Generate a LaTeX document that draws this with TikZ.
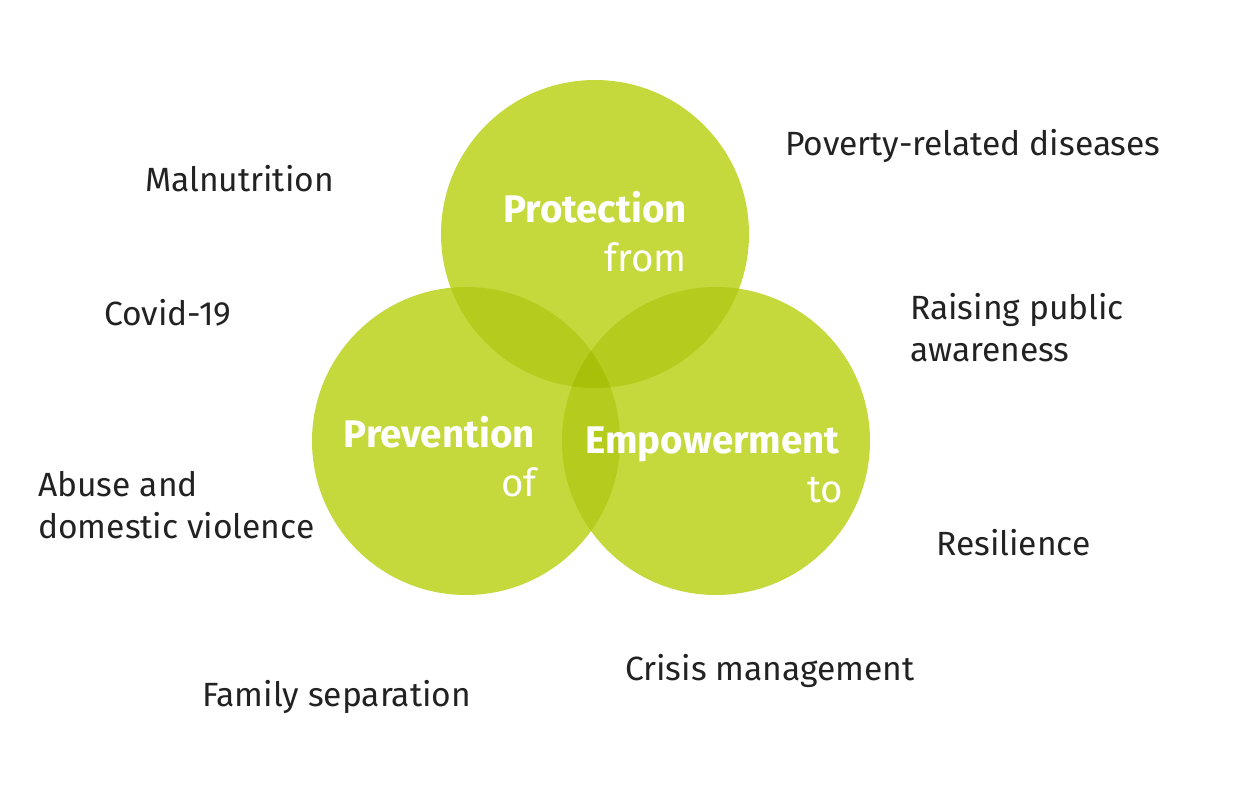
\documentclass[tikz,border=0pt]{standalone}
\usepackage{fontspec}
\setmainfont{Fira Sans}
\definecolor{gone}{HTML}{C5D83C}
\definecolor{gtwo}{HTML}{B5CB1E}
\definecolor{gthree}{HTML}{A9C00A}
\definecolor{txt}{HTML}{222222}
\tikzset{
  lbl/.style={anchor=base west, text=txt, font=\fontsize{33.6}{40}\selectfont, inner sep=0pt},
  ttl/.style={anchor=base east, text=white, font=\fontsize{38.5}{44}\selectfont\bfseries, inner sep=0pt},
  sub/.style={anchor=base east, text=white, font=\fontsize{38.5}{44}\selectfont, inner sep=0pt},
}
\begin{document}
\begin{tikzpicture}[x=1pt,y=-1pt]
\useasboundingbox (0,0) rectangle (1240,790);
\def\R{154}
\coordinate (cp) at (595,234);
\coordinate (cv) at (466,441);
\coordinate (ce) at (716,441);
% single
\fill[gone] (cp) circle (\R);
\fill[gone] (cv) circle (\R);
\fill[gone] (ce) circle (\R);
% doubles
\begin{scope}\clip (cp) circle (\R); \fill[gtwo] (cv) circle (\R); \fill[gtwo] (ce) circle (\R);\end{scope}
\begin{scope}\clip (cv) circle (\R); \fill[gtwo] (ce) circle (\R);\end{scope}
\begin{scope}\clip (cp) circle (\R); \clip (cv) circle (\R); \fill[gthree] (ce) circle (\R);\end{scope}
% titles
\node[ttl] (tp) at (687,222) {Protection};
\node[sub] (sp) at (687,271) {from};
\node[ttl] (tv) at (535,447) {Prevention};
\node[sub] (sv) at (537,496) {of};
\node[ttl] (te) at (840,453) {Empowerment};
\node[sub] (se) at (843,502) {to};
% labels
\node[lbl] (l1) at (785,155) {Poverty-related diseases};
\node[lbl] (l2) at (145,191) {Malnutrition};
\node[lbl] (l3) at (104,325) {Covid-19};
\node[lbl] (l4) at (910,319) {Raising public};
\node[lbl] (l4b) at (910,361) {awareness};
\node[lbl] (l5) at (38,496) {Abuse and};
\node[lbl] (l5b) at (38,538) {domestic violence};
\node[lbl] (l6) at (936,555) {Resilience};
\node[lbl] (l7) at (625,680) {Crisis management};
\node[lbl] (l8) at (202,706) {Family separation};
\end{tikzpicture}
\end{document}
